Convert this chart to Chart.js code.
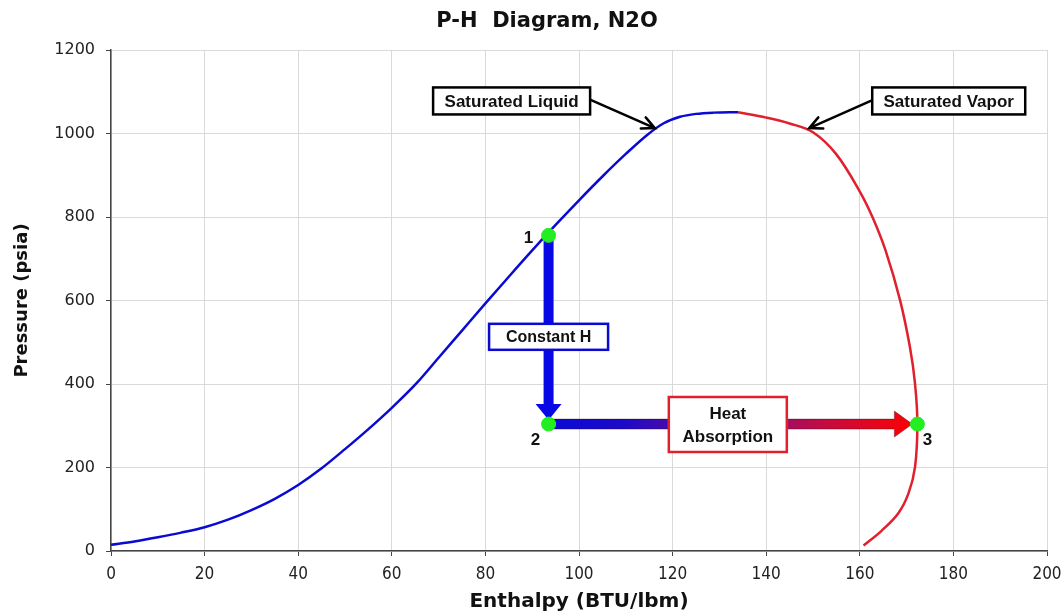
<!DOCTYPE html>
<html>
<head>
<meta charset="utf-8">
<script src="https://cdn.jsdelivr.net/npm/chart.js@4.4.0/dist/chart.umd.min.js"></script>
<style>
  html, body { margin: 0; padding: 0; background: #fff; }
</style>
</head>
<body>
<canvas id="ph" width="1062" height="613"></canvas>
<script>
// linea de liquido saturado (azul)
const liquidH = [0, 5, 10, 15, 20, 25, 30, 35, 40, 45, 50, 55, 60, 65.3, 70, 75, 80, 85, 90, 95, 100, 105, 110, 114.5, 118, 121.6, 125, 128.7, 134];
const liquidP = [15, 23, 33, 44, 57, 75, 98, 125, 158, 198, 244, 292, 343, 402, 463, 528, 593, 657, 720, 781, 840, 897, 951, 996, 1024, 1040, 1047, 1050, 1051];

// linea de vapor saturado (rojo)
const vaporH = [134, 140, 145, 150, 155, 160, 162.7, 165.5, 168.6, 170.7, 171.8, 172.3, 171.8, 170.4, 168.2, 164.7, 160.8];
const vaporP = [1051, 1038, 1024, 1003, 950, 861, 800, 720, 601, 489, 401, 305, 201, 138, 90, 49, 13];

// estados del ciclo
const stateH = [93.5, 93.5, 172.3];
const stateP = [756, 304, 304];
const stateNames = ['1', '2', '3'];

const xTicks = [0, 20, 40, 60, 80, 100, 120, 140, 160, 180, 200];
const yTicks = [0, 200, 400, 600, 800, 1000, 1200];

const toPts = (hs, ps) => hs.map((h, i) => ({ x: h, y: ps[i] }));

const BLUE = '#0a0ad2';
const RED = '#e0202c';

function arrowShape(ctx, x0, y0, x1, y1, shaft, headW, headL) {
    const ang = Math.atan2(y1 - y0, x1 - x0);
    const len = Math.hypot(x1 - x0, y1 - y0);
    ctx.save();
    ctx.translate(x0, y0);
    ctx.rotate(ang);
    ctx.beginPath();
    ctx.moveTo(0, -shaft / 2);
    ctx.lineTo(len - headL, -shaft / 2);
    ctx.lineTo(len - headL, -headW / 2);
    ctx.lineTo(len, 0);
    ctx.lineTo(len - headL, headW / 2);
    ctx.lineTo(len - headL, shaft / 2);
    ctx.lineTo(0, shaft / 2);
    ctx.closePath();
    ctx.restore();
}

function pointer(ctx, x0, y0, x1, y1) {
    const ang = Math.atan2(y1 - y0, x1 - x0);
    ctx.save();
    ctx.strokeStyle = '#000';
    ctx.lineWidth = 2.5;
    ctx.lineCap = 'round';
    ctx.beginPath();
    ctx.moveTo(x0, y0);
    ctx.lineTo(x1, y1);
    ctx.moveTo(x1 - 14 * Math.cos(ang - 0.45), y1 - 14 * Math.sin(ang - 0.45));
    ctx.lineTo(x1, y1);
    ctx.lineTo(x1 - 14 * Math.cos(ang + 0.45), y1 - 14 * Math.sin(ang + 0.45));
    ctx.stroke();
    ctx.restore();
}

function box(ctx, cx, cy, w, h, border, lines, size) {
    ctx.save();
    ctx.fillStyle = '#fff';
    ctx.fillRect(cx - w / 2, cy - h / 2, w, h);
    ctx.strokeStyle = border;
    ctx.lineWidth = 2.5;
    ctx.strokeRect(cx - w / 2, cy - h / 2, w, h);
    ctx.fillStyle = '#111';
    ctx.font = 'bold ' + size + 'px "Liberation Sans", Arial, sans-serif';
    ctx.textAlign = 'center';
    ctx.textBaseline = 'middle';
    const lh = 23;
    lines.forEach((t, i) => {
        ctx.fillText(t, cx, cy + 1 + (i - (lines.length - 1) / 2) * lh);
    });
    ctx.restore();
}

const overlay = {
    id: 'overlay',
    beforeDatasetsDraw(chart) {
        const { ctx, scales: { x, y } } = chart;
        const px1 = x.getPixelForValue(stateH[0]);
        const py1 = y.getPixelForValue(stateP[0]);
        const px2 = x.getPixelForValue(stateH[1]);
        const py2 = y.getPixelForValue(stateP[1]);
        const px3 = x.getPixelForValue(stateH[2]);

        // flecha vertical 1 -> 2
        ctx.save();
        arrowShape(ctx, px1, py1, px2, py2 - 4, 10, 26, 16);
        ctx.fillStyle = '#0808e6';
        ctx.fill();
        ctx.restore();

        // flecha horizontal 2 -> 3
        ctx.save();
        const g = ctx.createLinearGradient(px2, 0, px3, 0);
        g.addColorStop(0, '#0a0ad8');
        g.addColorStop(0.2, '#1c0ac8');
        g.addColorStop(0.5, '#7a0c8a');
        g.addColorStop(0.75, '#c40c40');
        g.addColorStop(1, '#ff0000');
        arrowShape(ctx, px2, py2, px3 - 5, py2, 10, 26, 18);
        ctx.fillStyle = g;
        ctx.fill();
        ctx.strokeStyle = 'rgba(60,0,0,0.35)';
        ctx.lineWidth = 1;
        ctx.stroke();
        ctx.restore();
    },
    afterDatasetsDraw(chart) {
        const { ctx, scales: { x, y }, chartArea } = chart;
        const X = v => x.getPixelForValue(v);
        const Y = v => y.getPixelForValue(v);

        // etiquetas de las curvas
        pointer(ctx, X(102.6), Y(1080), X(116.2), Y(1013));
        box(ctx, X(85.6), Y(1078), 157, 27, '#000', ['Saturated Liquid'], 17);
        pointer(ctx, X(162.7), Y(1080), X(149.2), Y(1013));
        box(ctx, X(179), Y(1078), 153, 27, '#000', ['Saturated Vapor'], 17);

        box(ctx, X(93.5), Y(513), 119, 26, BLUE, ['Constant H'], 16);
        box(ctx, X(131.8), Y(303), 118, 55, RED, ['Heat', 'Absorption'], 17);

        // numeros de estado
        ctx.save();
        ctx.fillStyle = '#111';
        ctx.font = 'bold 17px "Liberation Sans", Arial, sans-serif';
        ctx.textAlign = 'center';
        ctx.textBaseline = 'middle';
        ctx.fillText(stateNames[0], X(stateH[0]) - 20, Y(stateP[0]) + 3);
        ctx.fillText(stateNames[1], X(stateH[1]) - 13, Y(stateP[1]) + 16);
        ctx.fillText(stateNames[2], X(stateH[2]) + 10, Y(stateP[2]) + 16);

        // titulos
        ctx.font = 'bold 21px "DejaVu Sans", Verdana, sans-serif';
        ctx.fillText('P-H  Diagram, N2O', 547, 22);
        ctx.font = 'bold 20px "DejaVu Sans", Verdana, sans-serif';
        ctx.fillText('Enthalpy (BTU/lbm)', 579, 602);
        ctx.font = 'bold 18px "DejaVu Sans", Verdana, sans-serif';
        ctx.translate(22, (chartArea.top + chartArea.bottom) / 2);
        ctx.rotate(-Math.PI / 2);
        ctx.fillText('Pressure (psia)', 0, 0);
        ctx.restore();
    }
};

new Chart(document.getElementById('ph'), {
    type: 'scatter',
    data: {
        datasets: [
            {
                label: 'Saturated Liquid',
                data: toPts(liquidH, liquidP),
                showLine: true,
                borderColor: BLUE,
                borderWidth: 2.5,
                pointRadius: 0,
                cubicInterpolationMode: 'monotone',
                order: 2
            },
            {
                label: 'Saturated Vapor',
                data: toPts(vaporH, vaporP),
                showLine: true,
                borderColor: RED,
                borderWidth: 2.5,
                pointRadius: 0,
                tension: 0.35,
                order: 2
            },
            {
                label: 'States',
                data: toPts(stateH, stateP),
                showLine: false,
                pointRadius: 7,
                pointBackgroundColor: '#22ee22',
                pointBorderColor: '#22ee22',
                order: 1
            }
        ]
    },
    plugins: [overlay],
    options: {
        responsive: false,
        animation: false,
        layout: { padding: { left: 0, right: 0, top: 50, bottom: 0 } },
        plugins: {
            legend: { display: false },
            tooltip: { enabled: false }
        },
        scales: {
            x: {
                type: 'linear',
                min: 0,
                max: 200,
                afterBuildTicks: s => { s.ticks = xTicks.map(v => ({ value: v })); },
                afterFit: s => { s.height = 62; s.paddingRight = 15; },
                grid: { color: '#d9d9d9', tickColor: '#444', tickLength: 5 },
                border: { color: '#444', width: 1.5 },
                ticks: {
                    color: '#222',
                    padding: 8,
                    maxRotation: 0,
                    callback: v => String(v),
                    font: { family: '"DejaVu Sans Condensed", "DejaVu Sans", sans-serif', size: 17 }
                }
            },
            y: {
                type: 'linear',
                min: 0,
                max: 1200,
                afterBuildTicks: s => { s.ticks = yTicks.map(v => ({ value: v })); },
                afterFit: s => { s.width = 111; },
                grid: { color: '#d9d9d9', tickColor: '#444', tickLength: 5 },
                border: { color: '#444', width: 1.5 },
                ticks: {
                    color: '#222',
                    padding: 11,
                    callback: v => String(v),
                    font: { family: '"DejaVu Sans", Verdana, sans-serif', size: 16 }
                }
            }
        }
    }
});
</script>
</body>
</html>
